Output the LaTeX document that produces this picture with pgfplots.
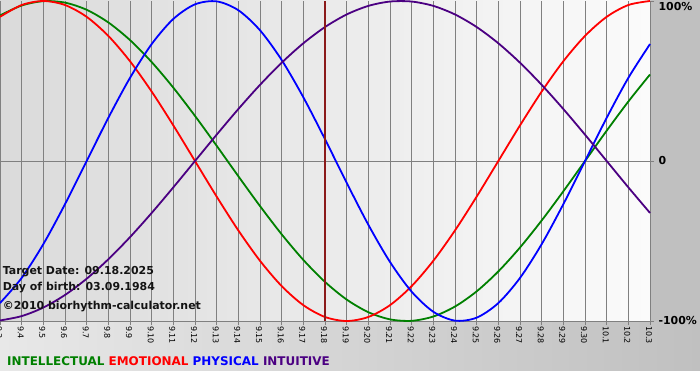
\documentclass[border=0pt]{standalone}
\usepackage{fontspec}
\setmainfont{DejaVu Sans}
\usepackage{pgfplots}
\pgfplotsset{compat=1.18}
\definecolor{intel}{HTML}{008000}
\definecolor{emo}{HTML}{FF0000}
\definecolor{phys}{HTML}{0000FF}
\definecolor{intu}{HTML}{4B0082}
\definecolor{gridc}{HTML}{808080}
\definecolor{marker}{HTML}{8B1A1A}
\definecolor{botL}{HTML}{E8E8E8}
\definecolor{botR}{HTML}{C0C0C0}
\definecolor{plotL}{HTML}{DADADA}
\definecolor{plotR}{HTML}{FBFBFB}
\definecolor{txt}{HTML}{141414}
\begin{document}
\begin{tikzpicture}[x=1bp,y=1bp]
\path[use as bounding box] (0,0) rectangle (700,380);
\fill[white] (0,0) rectangle (700,380);
\shade[left color=botL, right color=botR] (0,10) rectangle (700,59);
\fill[botR] (650,59) rectangle (700,380);
\shade[left color=plotL, right color=plotR] (0,59) rectangle (650,380);
\begin{axis}[
  at={(0bp,219bp)}, anchor=origin,
  width=650bp, height=320bp, scale only axis,
  xmin=0, xmax=30, ymin=-1, ymax=1,
  axis line style={draw=none},
  clip=false,
  xtick={0,...,30},
  xticklabels={9.3,9.4,9.5,9.6,9.7,9.8,9.9,9.10,9.11,9.12,9.13,9.14,9.15,9.16,9.17,9.18,9.19,9.20,9.21,9.22,9.23,9.24,9.25,9.26,9.27,9.28,9.29,9.30,10.1,10.2,10.3},
  xticklabel style={rotate=-90, anchor=west, font=\fontsize{8}{9}\selectfont, inner sep=1pt, yshift=-1pt},
  xmajorgrids, major grid style={gridc, line width=0.9bp},
  major tick length=4bp,
  xtick pos=bottom, tick align=outside,
  tick style={gridc, line width=0.9bp},
  ytick={-1,0,1},
  yticklabels={-100\%,0,{\raisebox{-10bp}[0pt][0pt]{100\%}}},
  yticklabel pos=right, ytick pos=right,
  yticklabel style={font=\bfseries\fontsize{11}{13}\selectfont, anchor=west, xshift=1bp},
  every axis plot/.append style={line width=1.8bp, smooth},
]
\draw[gridc, line width=0.9bp] (axis cs:0,-1) -- (axis cs:30,-1);
\draw[gridc, line width=0.9bp] (axis cs:30,-1) -- (axis cs:30,1);
\draw[gridc, line width=0.9bp] (axis cs:0,0) -- (axis cs:30,0);
% intellectual (33 d)
\addplot[intel] coordinates {(0,0.9096)(1,0.9718)(2,0.9989)(3,0.9898)(4,0.9450)(5,0.8660)(6,0.7557)(7,0.6182)(8,0.4582)(9,0.2817)(10,0.0951)(11,-0.0951)(12,-0.2817)(13,-0.4582)(14,-0.6182)(15,-0.7557)(16,-0.8660)(17,-0.9450)(18,-0.9898)(19,-0.9989)(20,-0.9718)(21,-0.9096)(22,-0.8146)(23,-0.6901)(24,-0.5406)(25,-0.3717)(26,-0.1893)(27,0)(28,0.1893)(29,0.3717)(30,0.5406)};
% emotional (28 d)
\addplot[emo] coordinates {(0,0.9010)(1,0.9749)(2,1)(3,0.9749)(4,0.9010)(5,0.7818)(6,0.6235)(7,0.4339)(8,0.2225)(9,0)(10,-0.2225)(11,-0.4339)(12,-0.6235)(13,-0.7818)(14,-0.9010)(15,-0.9749)(16,-1)(17,-0.9749)(18,-0.9010)(19,-0.7818)(20,-0.6235)(21,-0.4339)(22,-0.2225)(23,0)(24,0.2225)(25,0.4339)(26,0.6235)(27,0.7818)(28,0.9010)(29,0.9749)(30,1)};
% physical (23 d)
\addplot[phys] coordinates {(0,-0.8879)(1,-0.7308)(2,-0.5196)(3,-0.2698)(4,0)(5,0.2698)(6,0.5196)(7,0.7308)(8,0.8879)(9,0.9791)(10,0.9977)(11,0.9423)(12,0.8170)(13,0.6311)(14,0.3984)(15,0.1362)(16,-0.1362)(17,-0.3984)(18,-0.6311)(19,-0.8170)(20,-0.9423)(21,-0.9977)(22,-0.9791)(23,-0.8879)(24,-0.7308)(25,-0.5196)(26,-0.2698)(27,0)(28,0.2698)(29,0.5196)(30,0.7308)};
% intuitive (38 d)
\addplot[intu] coordinates {(0,-0.9966)(1,-0.9694)(2,-0.9158)(3,-0.8372)(4,-0.7357)(5,-0.6142)(6,-0.4759)(7,-0.3247)(8,-0.1646)(9,0)(10,0.1646)(11,0.3247)(12,0.4759)(13,0.6142)(14,0.7357)(15,0.8372)(16,0.9158)(17,0.9694)(18,0.9966)(19,0.9966)(20,0.9694)(21,0.9158)(22,0.8372)(23,0.7357)(24,0.6142)(25,0.4759)(26,0.3247)(27,0.1646)(28,0)(29,-0.1646)(30,-0.3247)};
% target date marker
\addplot[marker, line width=2bp, sharp plot] coordinates {(15,-1)(15,1)};
\node[anchor=west, inner sep=0pt, font=\bfseries\fontsize{11}{13}\selectfont, text=txt] at (rel axis cs:0.004,0.153) {Target Date: 09.18.2025};
\node[anchor=west, inner sep=0pt, font=\bfseries\fontsize{11}{13}\selectfont, text=txt] at (rel axis cs:0.004,0.106) {Day of birth: 03.09.1984};
\node[anchor=west, inner sep=0pt, font=\bfseries\fontsize{11}{13}\selectfont, text=txt] at (rel axis cs:0.004,0.044) {©2010 biorhythm-calculator.net};
\end{axis}
\node[anchor=west, inner sep=0pt, font=\bfseries\fontsize{12}{14}\selectfont] at (7,19) {\textcolor{intel}{INTELLECTUAL} \textcolor{emo}{EMOTIONAL} \textcolor{phys}{PHYSICAL} \textcolor{intu}{INTUITIVE}};
\end{tikzpicture}
\end{document}
